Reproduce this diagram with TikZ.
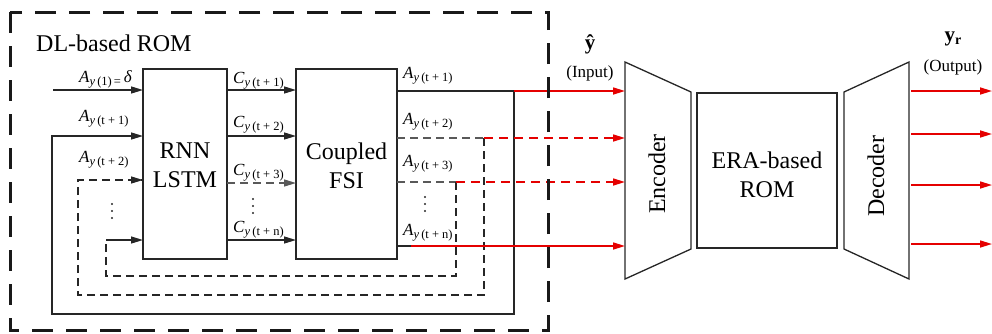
\documentclass[tikz,border=0pt]{standalone}
\usepackage{fontspec}
\setmainfont{Liberation Serif}
\usetikzlibrary{arrows.meta}
\newcommand\SubLab[2]{\textit{#1}\raisebox{-3pt}{\fontsize{12.5}{12.5}\selectfont\textit{y}\,(#2)}}
\begin{document}
\begin{tikzpicture}[x=1pt,y=-1pt,
  tip/.style={-{Triangle[length=12pt,width=7pt]}},
  ln/.style={line width=1.3pt, draw=black!85},
  arw/.style={ln, tip},
  grayarw/.style={line width=1.3pt, draw=black!65, dash pattern=on 8pt off 5pt, -{Triangle[length=12pt,width=7pt,fill=black!65]}},
  graydash/.style={line width=1.3pt, draw=black!65, dash pattern=on 8pt off 5pt},
  loopdash/.style={line width=1.3pt, draw=black!85, dash pattern=on 8pt off 5pt},
  redarw/.style={line width=1.6pt, draw=red!90!black, tip},
  reddash/.style={redarw, dash pattern=on 9pt off 6pt},
  box/.style={draw=black!85, line width=1.3pt, fill=white, minimum width=#1},
  lbl/.style={font=\fontsize{17}{17}\selectfont, inner sep=0pt, anchor=base west},
  bigtxt/.style={font=\fontsize{24}{29}\selectfont, align=center, inner sep=0pt},
  dotc/.style={fill=black!85, draw=none}
]
\useasboundingbox (0,0) rectangle (992,333);

% blocks
\node[box=84pt, minimum height=190pt] (rnn) at (185,164) {};
\node[bigtxt] (rnntxt) at (185,165) {RNN\\LSTM};
\node[box=101pt, minimum height=190pt] (fsi) at (346.5,164) {};
\node[bigtxt] (fsitxt) at (346.5,166) {Coupled\\FSI};
\node[box=140pt, minimum height=155pt] (era) at (767,170.5) {};
\node[bigtxt] (eratxt) at (767,175) {ERA-based\\ROM};

% encoder / decoder
\coordinate (eTL) at (625,62); \coordinate (eBL) at (625,279);
\coordinate (eTR) at (691,92); \coordinate (eBR) at (691,249);
\draw[ln] (eTL) -- (eTR) -- (eBR) -- (eBL) -- cycle;
\node[bigtxt, rotate=90] (enctxt) at (657,174) {Encoder};
\coordinate (dTL) at (844,92); \coordinate (dBL) at (844,249);
\coordinate (dTR) at (909,62); \coordinate (dBR) at (909,279);
\draw[ln] (dTL) -- (dTR) -- (dBR) -- (dBL) -- cycle;
\node[bigtxt, rotate=90] (dectxt) at (876,176) {Decoder};

% coordinates
\coordinate (in1) at (53,90);
\coordinate (r1) at (143,90);  \coordinate (r2) at (143,136);
\coordinate (r3) at (143,180); \coordinate (r4) at (143,240);
\coordinate (c1a) at (227,90);  \coordinate (c1b) at (296,90);
\coordinate (c2a) at (227,136); \coordinate (c2b) at (296,136);
\coordinate (c3a) at (227,183); \coordinate (c3b) at (296,183);
\coordinate (c4a) at (227,240); \coordinate (c4b) at (296,240);
\coordinate (o1) at (397,91);  \coordinate (o2) at (397,138);
\coordinate (o3) at (397,182); \coordinate (o4) at (397,246);
\coordinate (k1) at (514,91);  \coordinate (k2) at (484,138);
\coordinate (k3) at (456,182); \coordinate (k4) at (411,246);
\coordinate (e1) at (625,91);  \coordinate (e2) at (625,138);
\coordinate (e3) at (625,182); \coordinate (e4) at (625,246);
\coordinate (p1) at (911,91);  \coordinate (q1) at (992,91);
\coordinate (p2) at (911,134); \coordinate (q2) at (992,134);
\coordinate (p3) at (911,185); \coordinate (q3) at (992,185);
\coordinate (p4) at (911,244); \coordinate (q4) at (992,244);

% inputs and C arrows
\draw[arw] (in1) -- (r1);
\draw[arw] (c1a) -- (c1b);
\draw[arw] (c2a) -- (c2b);
\draw[grayarw] (c3a) -- (c3b);
\draw[arw] (c4a) -- (c4b);

% feedback loops
\draw[arw] (o1) -- (k1) -- (514,314) -- (52,314) -- (52,136) -- (r2);
\draw[graydash] (o2) -- (k2);
\draw[loopdash] (k2) -- (484,295) -- (78,295) -- (78,180) -- (r3);
\draw[arw] (128,180) -- (r3);
\draw[graydash] (o3) -- (k3);
\draw[loopdash] (k3) -- (456,276) -- (106,276) -- (106,240);
\draw[arw] (106,240) -- (r4);
\draw[ln] (o4) -- (k4);

% red connections
\draw[redarw] (k1) -- (e1);
\draw[reddash] (k2) -- (e2);
\draw[reddash] (k3) -- (e3);
\draw[redarw] (k4) -- (e4);
\draw[redarw] (p1) -- (q1);
\draw[redarw] (p2) -- (q2);
\draw[redarw] (p3) -- (q3);
\draw[redarw] (p4) -- (q4);

% labels
\node[lbl] (la1) at (79,82) {\textit{A}\raisebox{-3pt}{\fontsize{12.5}{12.5}\selectfont\textit{y}\,(1)\,=}\,\textit{δ}};
\node[lbl] (la2) at (79,121) {\SubLab{A}{t + 1}};
\node[lbl] (la3) at (79,162) {\SubLab{A}{t + 2}};
\node[lbl] (lc1) at (233,83) {\SubLab{C}{t + 1}};
\node[lbl] (lc2) at (233,127) {\SubLab{C}{t + 2}};
\node[lbl] (lc3) at (233,175) {\SubLab{C}{t + 3}};
\node[lbl] (lc4) at (233,232) {\SubLab{C}{t + n}};
\node[lbl] (lo1) at (403,78) {\SubLab{A}{t + 1}};
\node[lbl] (lo2) at (403,124) {\SubLab{A}{t + 2}};
\node[lbl] (lo3) at (403,166) {\SubLab{A}{t + 3}};
\node[lbl] (lo4) at (403,235) {\SubLab{A}{t + n}};

% vertical dots
\foreach \dx/\dy in {112/204, 253/199, 425/197}{
  \fill[dotc] (\dx,\dy) circle (1.2) (\dx,\dy+7) circle (1.2) (\dx,\dy+14) circle (1.2);
}

\node[font=\fontsize{24}{24}\selectfont, inner sep=0pt, anchor=base west] (dltitle) at (36,51) {DL-based ROM};
\node[font=\bfseries\fontsize{21}{21}\selectfont, inner sep=0pt] (yhat) at (590,44) {ŷ};
\node[font=\fontsize{17}{17}\selectfont, inner sep=0pt] (inp) at (590,73) {(Input)};
\node[font=\bfseries\fontsize{21}{21}\selectfont, inner sep=0pt] (yr) at (953,39) {y\raisebox{-3pt}{\fontsize{14}{14}\selectfont r}};
\node[font=\fontsize{17}{17}\selectfont, inner sep=0pt] (outp) at (953,67) {(Output)};

% outer dashed frame
\draw[line width=3pt, black!90, dash pattern=on 21pt off 13pt] (10,12) rectangle (548,330);
\end{tikzpicture}
\end{document}
